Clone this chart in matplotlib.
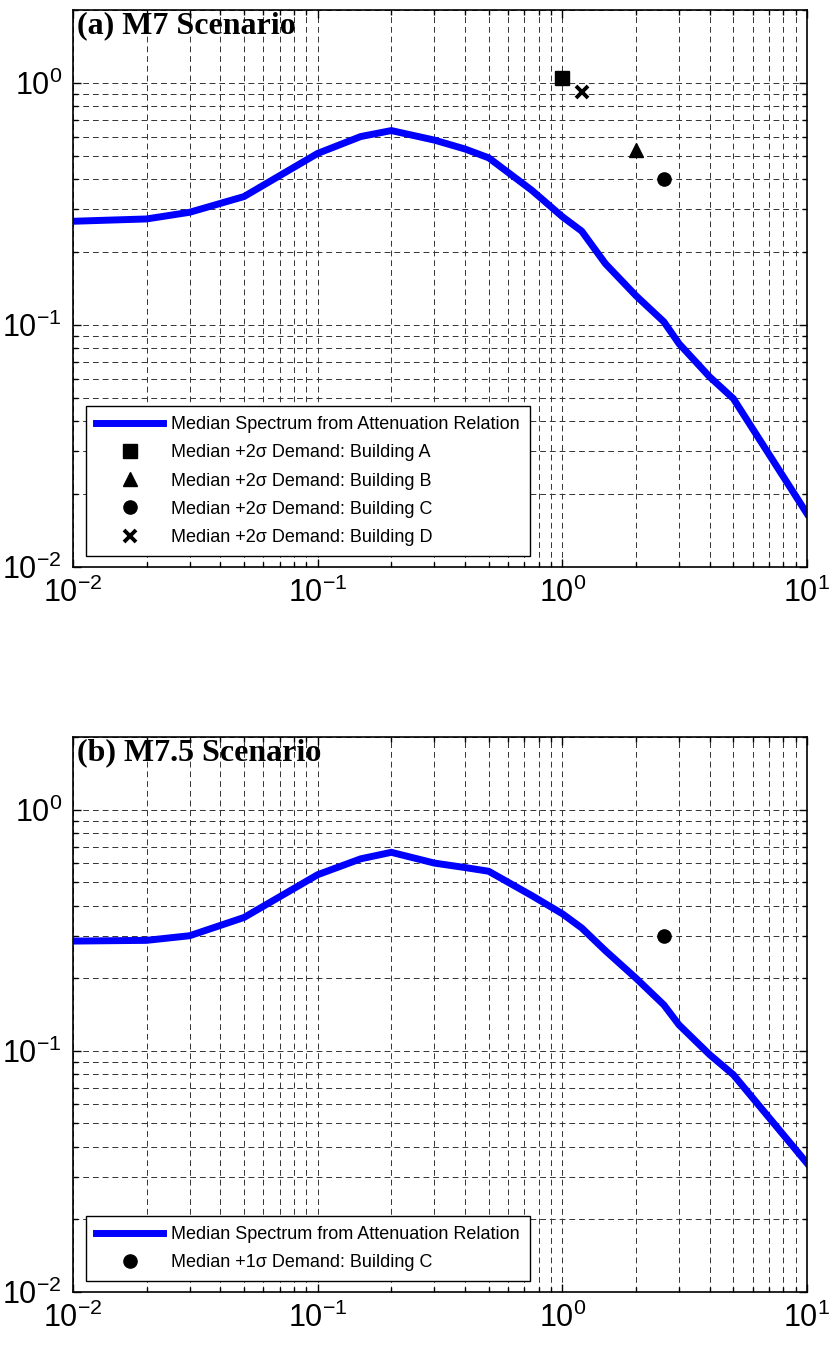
import matplotlib
matplotlib.use("Agg")
import matplotlib.pyplot as plt
from matplotlib.ticker import LogLocator, NullFormatter


# period (s) and median spectral acceleration (g)
periods_a = [0.01, 0.02, 0.03, 0.05, 0.1, 0.15, 0.2, 0.3, 0.4, 0.5, 0.75, 1.0, 1.2, 1.5, 2.0, 2.6, 3.0, 4.0, 5.0, 10.0]
median_a = [0.268, 0.274, 0.292, 0.339, 0.511, 0.60, 0.635, 0.58, 0.533, 0.49, 0.36, 0.28, 0.244, 0.179, 0.132, 0.103, 0.0836, 0.061, 0.0496, 0.0166]

periods_b = [0.01, 0.02, 0.03, 0.05, 0.1, 0.15, 0.2, 0.3, 0.4, 0.5, 0.75, 1.0, 1.2, 1.5, 2.0, 2.6, 3.0, 4.0, 5.0, 10.0]
median_b = [0.285, 0.287, 0.30, 0.357, 0.537, 0.625, 0.665, 0.60, 0.575, 0.555, 0.44, 0.37, 0.323, 0.26, 0.20, 0.155, 0.128, 0.0964, 0.0796, 0.0342]

# building demands
buildings_a = ["A", "B", "C", "D"]
demand_T_a = [1.0, 2.0, 2.6, 1.2]
demand_Sa_a = [1.05, 0.53, 0.40, 0.92]
markers_a = ["s", "^", "o", "x"]

buildings_b = ["C"]
demand_T_b = [2.6]
demand_Sa_b = [0.30]
markers_b = ["o"]

titles = ["(a) M7 Scenario", "(b) M7.5 Scenario"]


def style_axes(ax):
    ax.set_xscale("log")
    ax.set_yscale("log")
    ax.set_xlim(0.01, 10)
    ax.set_ylim(0.01, 2)
    ax.xaxis.set_major_locator(LogLocator(base=10, numticks=10))
    ax.yaxis.set_major_locator(LogLocator(base=10, numticks=10))
    ax.xaxis.set_minor_locator(LogLocator(base=10, subs=range(2, 10), numticks=20))
    ax.yaxis.set_minor_locator(LogLocator(base=10, subs=range(2, 10), numticks=20))
    ax.xaxis.set_minor_formatter(NullFormatter())
    ax.yaxis.set_minor_formatter(NullFormatter())
    ax.grid(True, which="both", color="#333333", linestyle=(0, (6, 4)), linewidth=0.7)
    ax.tick_params(which="both", direction="in", top=True, right=True, labelsize=22, width=1)
    ax.tick_params(which="major", length=6, pad=8)
    ax.tick_params(which="minor", length=3.5)
    for s in ax.spines.values():
        s.set_linewidth(1.2)
        s.set_zorder(5)


def draw(ax, periods, median, T, Sa, markers, names, sig, title):
    ax.plot(periods, median, color="#0000ff", linewidth=5, solid_joinstyle="miter",
            label="Median Spectrum from Attenuation Relation", zorder=3)
    for t, sa, m, n in zip(T, Sa, markers, names):
        if m == "x":
            ax.plot(t, sa, m, color="black", markersize=8, markeredgewidth=2.8, linestyle="none",
                    label="Median +" + sig + "σ Demand: Building " + n, zorder=4)
        else:
            ax.plot(t, sa, m, color="black", markersize=9.5, linestyle="none",
                    label="Median +" + sig + "σ Demand: Building " + n, zorder=4)
    style_axes(ax)
    ax.text(0.006, 0.997, title, transform=ax.transAxes, ha="left", va="top",
            fontsize=23, fontweight="bold", family=["Liberation Serif", "DejaVu Serif"], zorder=6)
    leg = ax.legend(loc="lower left", bbox_to_anchor=(0.018, 0.02), borderaxespad=0,
                    fontsize=13, handlelength=3.7, handletextpad=0.45, labelspacing=0.62,
                    borderpad=0.55, numpoints=1, fancybox=False, framealpha=1,
                    edgecolor="black")
    leg.get_frame().set_linewidth(1.0)
    leg.set_zorder(7)


def main():
    plt.rcParams["font.family"] = ["Liberation Sans", "DejaVu Sans"]

    fig = plt.figure(figsize=(8.33, 13.48), dpi=100)
    ax1 = fig.add_axes([0.0876, 0.5794, 0.8812, 0.4132])
    ax2 = fig.add_axes([0.0876, 0.0415, 0.8812, 0.4118])

    draw(ax1, periods_a, median_a, demand_T_a, demand_Sa_a, markers_a, buildings_a, "2", titles[0])
    draw(ax2, periods_b, median_b, demand_T_b, demand_Sa_b, markers_b, buildings_b, "1", titles[1])

    fig.savefig("out.png", dpi=100)


if __name__ == "__main__":
    main()
